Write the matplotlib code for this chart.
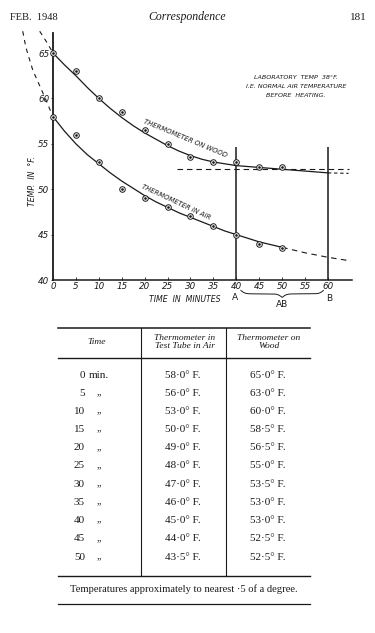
import numpy as np
import matplotlib.pyplot as plt

# measured readings (from the table)
times = [0, 5, 10, 15, 20, 25, 30, 35, 40, 45, 50]
air_temps = [58.0, 56.0, 53.0, 50.0, 49.0, 48.0, 47.0, 46.0, 45.0, 44.0, 43.5]
wood_temps = [65.0, 63.0, 60.0, 58.5, 56.5, 55.0, 53.5, 53.0, 53.0, 52.5, 52.5]

# hand-drawn smooth curves
air_curve_t = [0, 2.5, 5, 7.5, 10, 12.5, 15, 17.5, 20, 22.5, 25, 27.5, 30, 32.5, 35, 37.5, 40, 42.5, 45, 47.5, 50]
air_curve = [58.0, 56.4, 55.0, 53.8, 52.8, 51.8, 50.9, 50.1, 49.3, 48.6, 48.0, 47.4, 46.9, 46.4, 45.9, 45.4, 45.0, 44.6, 44.2, 43.9, 43.6]
air_tail_t = [50, 55, 60, 65]
air_tail = [43.6, 43.0, 42.5, 42.1]
air_lead_t = [-6.6, -5.9, -4.4, -2.2, 0]
air_lead = [67.4, 65.6, 63.1, 60.6, 58.0]

wood_curve_t = [0, 2.5, 5, 7.5, 10, 12.5, 15, 17.5, 20, 22.5, 25, 27.5, 30, 32.5, 35, 37.5, 40, 45, 50, 55, 60]
wood_curve = [65.0, 63.7, 62.5, 61.2, 60.0, 58.9, 57.9, 57.0, 56.2, 55.5, 54.8, 54.2, 53.7, 53.3, 53.0, 52.8, 52.6, 52.4, 52.2, 52.0, 51.8]
wood_tail_t = [60, 64.5]
wood_tail = [51.8, 51.75]
wood_lead_t = [-2.9, -2.0, -1.0, 0]
wood_lead = [67.4, 66.7, 65.9, 65.0]

level_t = [27, 64.5]
level_temp = [52.25, 52.25]

marker_t = [40, 60]
marker_top = 54.6

x_ticks = list(range(0, 61, 5))
y_ticks = [40, 45, 50, 55, 60, 65]

ink = '#1a1a1a'
hand = dict(family='DejaVu Sans', style='italic', color=ink)

fig = plt.figure(figsize=(3.75, 6.33), dpi=100)
fig.patch.set_facecolor('white')

# chart: axes laid out over the page so that 0 min sits on the left edge line
ax = fig.add_axes([0, 0.5103, 1, 0.4739])
ax.set_xlim(-11.56, 70.26)
ax.set_ylim(36.70, 69.74)
ax.patch.set_alpha(0)

for s in ['top', 'right']:
    ax.spines[s].set_visible(False)
ax.spines['left'].set_position(('data', 0))
ax.spines['bottom'].set_position(('data', 40))
ax.spines['left'].set_bounds(40, 67.2)
ax.spines['bottom'].set_bounds(0, 65.2)
ax.spines['left'].set_linewidth(1.3)
ax.spines['bottom'].set_linewidth(1.1)
ax.spines['left'].set_color(ink)
ax.spines['bottom'].set_color(ink)

ax.set_xticks(x_ticks)
ax.set_yticks(y_ticks)
ax.set_xticklabels([str(t) for t in x_ticks], fontsize=6.3, **hand)
ax.set_yticklabels([str(t) for t in y_ticks], fontsize=6.3, **hand)
ax.tick_params(axis='x', direction='in', length=2, width=0.6, pad=1.5, colors=ink)
ax.tick_params(axis='y', direction='out', length=1.5, width=0.6, pad=1, colors=ink)

# curves
ax.plot(wood_curve_t, wood_curve, color=ink, lw=0.9)
ax.plot(air_curve_t, air_curve, color=ink, lw=0.9)
ax.plot(air_tail_t, air_tail, color=ink, lw=0.8, ls=(0, (5, 4)))
ax.plot(wood_tail_t, wood_tail, color=ink, lw=0.8, ls=(0, (3, 2.5)))
ax.plot(air_lead_t, air_lead, color=ink, lw=0.8, ls=(0, (4, 4)))
ax.plot(wood_lead_t, wood_lead, color=ink, lw=0.8, ls=(0, (4, 4)))
ax.plot(level_t, level_temp, color=ink, lw=0.8, ls=(0, (5, 3.5)))
ax.vlines(marker_t, 40, marker_top, color=ink, lw=1.1)

# readings: small circles with a dot
for temps in (wood_temps, air_temps):
    ax.scatter(times, temps, s=16, facecolor='white', edgecolor=ink, linewidth=0.7, zorder=3)
    ax.scatter(times, temps, s=0.8, color=ink, zorder=4)

ax.text(28.8, 55.6, 'THERMOMETER ON WOOD', rotation=-22.6, fontsize=4.9,
        ha='center', va='center', rotation_mode='anchor', **hand)
ax.text(26.8, 48.6, 'THERMOMETER IN AIR', rotation=-25, fontsize=4.9,
        ha='center', va='center', rotation_mode='anchor', **hand)

for y, line in zip([62.36, 61.26, 60.27],
                   ['LABORATORY  TEMP  38°F.', 'I.E. NORMAL AIR TEMPERATURE', 'BEFORE  HEATING.']):
    ax.text(53.0, y, line, fontsize=4.6, ha='center', va='center', **hand)

ax.text(28.8, 37.9, 'TIME  IN  MINUTES', fontsize=5.6, ha='center', va='center', **hand)
ax.text(-4.4, 50.9, 'TEMP.  IN  °F.', fontsize=5.6, rotation=90, ha='center', va='center', **hand)

ax.text(39.7, 38.1, 'A', fontsize=6.5, ha='center', va='center', family='DejaVu Sans', color=ink)
ax.text(60.3, 38.0, 'B', fontsize=6.5, ha='center', va='center', family='DejaVu Sans', color=ink)
ax.text(50.0, 37.25, 'AB', fontsize=6.5, ha='center', va='center', family='DejaVu Sans', color=ink)

# curly brace between A and B
xa, xb = marker_t[0] + 1.0, marker_t[1] - 1.0
half = np.linspace(0, 0.5, 100)
k = 40
rise = 1 / (1 + np.exp(-k * (half - half[0]))) + 1 / (1 + np.exp(-k * (half - half[-1])))
brace = np.concatenate([rise, rise[::-1]])
bx = np.linspace(xa, xb, brace.size)
by = 38.85 - (brace - brace.min()) / (brace.max() - brace.min()) * 0.75
ax.plot(bx, by, color=ink, lw=0.7)

# page furniture and table, in pixel coordinates
pg = fig.add_axes([0, 0, 1, 1])
pg.set_xlim(0, 375)
pg.set_ylim(633, 0)
pg.axis('off')
pg.patch.set_alpha(0)

serif = 'Liberation Serif'
pg.text(10, 17, 'FEB.  1948', fontsize=7.5, family=serif, va='center', ha='left', color=ink)
pg.text(187, 17, 'Correspondence', fontsize=8.5, family=serif, style='italic', va='center', ha='center', color=ink)
pg.text(367, 17, '181', fontsize=8, family=serif, va='center', ha='right', color=ink)

col_heads = ['Time', 'Thermometer in\nTest Tube in Air', 'Thermometer on\nWood']
col_x = [97, 185, 269]
for x, head in zip(col_x, col_heads):
    pg.text(x, 342, head, fontsize=6.8, family=serif, style='italic', ha='center', va='center',
            linespacing=0.95, color=ink)

for y, lw in [(328, 1.1), (358, 1.0), (576, 1.0), (604, 0.9)]:
    pg.plot([58, 310], [y, y], color=ink, lw=lw)
for x in [141, 226]:
    pg.plot([x, x], [328, 576], color=ink, lw=0.8)

row_y = 375
for i, (t, a, w) in enumerate(zip(times, air_temps, wood_temps)):
    y = row_y + i * 18.2
    pg.text(85, y, str(t), fontsize=8, family=serif, ha='right', va='center', color=ink)
    if i == 0:
        pg.text(89, y, 'min.', fontsize=8, family=serif, ha='left', va='center', color=ink)
    else:
        pg.text(97, y - 1.5, '„', fontsize=7, family=serif, ha='left', va='center', color=ink)
    pg.text(183, y, f'{a:.1f}'.replace('.', '·') + '° F.', fontsize=8, family=serif,
            ha='center', va='center', color=ink)
    pg.text(268, y, f'{w:.1f}'.replace('.', '·') + '° F.', fontsize=8, family=serif,
            ha='center', va='center', color=ink)

pg.text(184, 589, 'Temperatures approximately to nearest ·5 of a degree.', fontsize=7.6,
        family=serif, ha='center', va='center', color=ink)

fig.savefig('out.png', dpi=100, facecolor='white')
